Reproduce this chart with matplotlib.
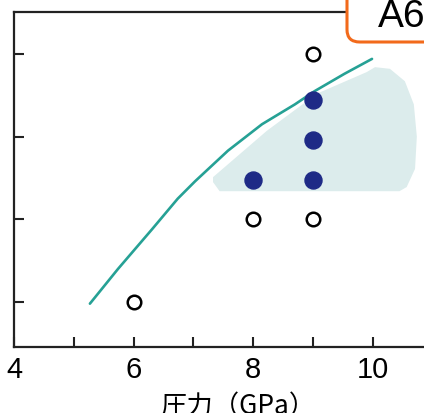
import matplotlib.pyplot as plt
from matplotlib.patches import FancyBboxPatch, Polygon

plt.rcParams['font.family'] = ['Liberation Sans', 'Noto Sans CJK JP', 'DejaVu Sans']

# open circles (pressure, level)
open_x = [6, 8, 9, 9]
open_y = [1, 2, 2, 4]

# filled dots
fill_x = [8, 9, 9, 9]
fill_y = [2.47, 2.47, 2.96, 3.44]

# teal boundary curve
curve_x = [5.27, 5.74, 6.31, 6.74, 7.03, 7.58, 8.15, 8.70, 9.03, 9.53, 9.99]
curve_y = [0.98, 1.40, 1.88, 2.25, 2.46, 2.83, 3.15, 3.39, 3.55, 3.76, 3.94]

# shaded region outline
shade_x = [7.33, 7.44, 10.45, 10.57, 10.71, 10.74, 10.69, 10.54, 10.29, 10.04, 9.90, 9.07, 8.23, 7.33]
shade_y = [2.45, 2.34, 2.34, 2.39, 2.61, 3.00, 3.39, 3.67, 3.82, 3.84, 3.78, 3.52, 3.07, 2.51]

xticks = [4, 6, 8, 10]
minor_xticks = [5, 7, 9]
yticks = [1, 2, 3, 4]

fig = plt.figure(figsize=(4.24, 4.14), dpi=100)
W, H = 424, 414
ax = fig.add_axes([14 / W, 66 / H, 1 - 14 / W, 335 / H])

ax.add_patch(Polygon(list(zip(shade_x, shade_y)), closed=True,
                     facecolor='#dcecec', edgecolor='none', zorder=1))
ax.plot(curve_x, curve_y, color='#26a195', lw=1.9, zorder=2,
        solid_joinstyle='round', solid_capstyle='round')
ax.scatter(open_x, open_y, s=95, facecolor='white', edgecolor='black', lw=1.8, zorder=3)
ax.scatter(fill_x, fill_y, s=150, color='#1e2a86', zorder=3)

ax.set_xlim(4, 10.86)
ax.set_ylim(0.456, 4.507)
ax.set_xticks(xticks)
ax.set_xticks(minor_xticks, minor=True)
ax.set_yticks(yticks)
ax.set_yticklabels([])
ax.tick_params(axis='both', which='both', direction='in', length=7, width=1.5, color='#222222')
ax.tick_params(axis='x', labelsize=21, pad=6)
ax.spines['right'].set_visible(False)
for s in ['left', 'top', 'bottom']:
    ax.spines[s].set_linewidth(1.6)
    ax.spines[s].set_color('#222222')

fig.text(238 / W, 1 - 393 / H, '圧力（GPa）', fontsize=19, ha='center', va='top',
         family=['Noto Sans CJK JP', 'DejaVu Sans'])

# label box at the top right, cut off by the frame
box = FancyBboxPatch((347 / W, 1 - 43 / H), 0.3, 0.3, transform=fig.transFigure,
                     facecolor='white', edgecolor='#f26a1b', lw=2.2,
                     boxstyle='round,pad=0,rounding_size=0.03', zorder=5)
fig.patches.append(box)
fig.text(378 / W, 1 - 27 / H, 'A6', fontsize=28, ha='left', va='baseline', zorder=6)

fig.savefig('out.png', dpi=100)
